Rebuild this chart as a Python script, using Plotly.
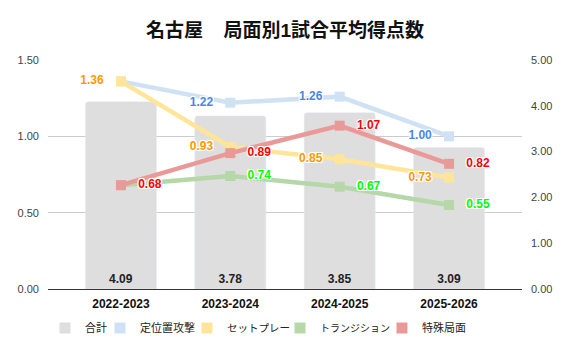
import plotly.graph_objects as go

seasons = ["2022-2023", "2023-2024", "2024-2025", "2025-2026"]
total = [4.09, 3.78, 3.85, 3.09]
setplay_attack = [1.36, 1.22, 1.26, 1.00]   # 定位置攻撃
set_piece = [1.36, 0.93, 0.85, 0.73]        # セットプレー
transition = [0.68, 0.74, 0.67, 0.55]       # トランジション
special = [0.68, 0.89, 1.07, 0.82]          # 特殊局面

FONT = "Liberation Sans, Arial, Noto Sans CJK JP, sans-serif"
SH = "1px 1px 0 #fff, -1px -1px 0 #fff, 1px -1px 0 #fff, -1px 1px 0 #fff, 0 1px 0 #fff, 0 -1px 0 #fff, 1px 0 0 #fff, -1px 0 0 #fff"
PAD = "\u00a0\u00a0\u00a0"

fig = go.Figure()

fig.add_trace(go.Bar(
    x=seasons, y=total, yaxis="y", width=0.65,
    marker=dict(color="#dedede", cornerradius=3),
    text=[f"{v:.2f}" for v in total], textposition="inside",
    insidetextanchor="start",
    textfont=dict(color="#222", size=12, family=FONT, weight="bold"),
    showlegend=False, hoverinfo="skip",
))

series = [
    ("定位置攻撃", setplay_attack, "#cfe2f3", "#4a86e8", "middle left", [False, True, True, True]),
    ("セットプレー", set_piece, "#ffe599", "#ff9900", "middle left", [True, True, True, True]),
    ("トランジション", transition, "#b6d7a8", "#00ff00", "middle right", [False, True, True, True]),
    ("特殊局面", special, "#ea9999", "#ff0000", "middle right", [True, True, True, True]),
]

for name, vals, col, tcol, pos, show in series:
    if pos.endswith("left"):
        labels = [f"{v:.2f}{PAD}" if s else "" for v, s in zip(vals, show)]
    else:
        labels = [f"{PAD}{v:.2f}" if s else "" for v, s in zip(vals, show)]
    fig.add_trace(go.Scatter(
        x=seasons, y=vals, yaxis="y2", mode="lines+markers+text", name=name,
        line=dict(color=col, width=4.5),
        marker=dict(symbol="square", size=10, color=col),
        text=labels,
        textposition=pos,
        textfont=dict(color=tcol, size=12, family=FONT, weight="bold", shadow=SH),
        showlegend=False, cliponaxis=False,
    ))

legend_items = [("合計", "#dedede")] + [(n, c) for n, _, c, _, _, _ in series]
legend_x = [-0.0063, 0.1097, 0.2932, 0.4895, 0.7046]
legend_fs = [11, 11, 10.5, 10, 11]
legend_ids = ["legend", "legend2", "legend3", "legend4", "legend5"]
for (name, col), lid in zip(legend_items, legend_ids):
    fig.add_trace(go.Scatter(
        x=[None], y=[None], mode="markers", name=name, legend=lid,
        marker=dict(symbol="square", size=11, color=col),
        showlegend=True,
    ))

fig.update_layout(
    width=570, height=353,
    margin=dict(l=48, r=48, t=60, b=63),
    paper_bgcolor="white", plot_bgcolor="white",
    font=dict(family=FONT, color="#222"),
    title=dict(text="名古屋\u3000\u200a局面別1試合平均得点数", x=0.5, xanchor="center", y=0.915, yanchor="middle",
               font=dict(size=19, family=FONT, color="#111", weight="bold")),
    xaxis=dict(range=[-0.667, 3.667], showgrid=False, showline=True, linecolor="#333", linewidth=1,
               tickfont=dict(size=12, family=FONT, color="#111", weight="bold"), ticks="",
               ticklabelstandoff=4, tickangle=0, fixedrange=True),
    yaxis=dict(range=[0, 5], tickvals=[0, 1, 2, 3, 4, 5], tickformat=".2f", side="right",
               showgrid=False, zeroline=False,
               tickfont=dict(size=11, family=FONT, color="#444"), ticks="", ticklabelstandoff=8),
    yaxis2=dict(range=[0, 1.5], tickvals=[0, 0.5, 1.0, 1.5], tickformat=".2f", overlaying="y", side="left",
                showgrid=True, gridcolor="#cccccc", zeroline=False,
                tickfont=dict(size=11, family=FONT, color="#444"), ticks="", ticklabelstandoff=8),
    showlegend=True,
)
for lid, lx, fs in zip(legend_ids, legend_x, legend_fs):
    fig.update_layout({lid: dict(orientation="h", xanchor="left", x=lx, y=-0.165, yanchor="middle",
                                 font=dict(size=fs, family=FONT, color="#222"), itemwidth=30,
                                 bgcolor="rgba(0,0,0,0)")})

fig.write_html("out.html")
